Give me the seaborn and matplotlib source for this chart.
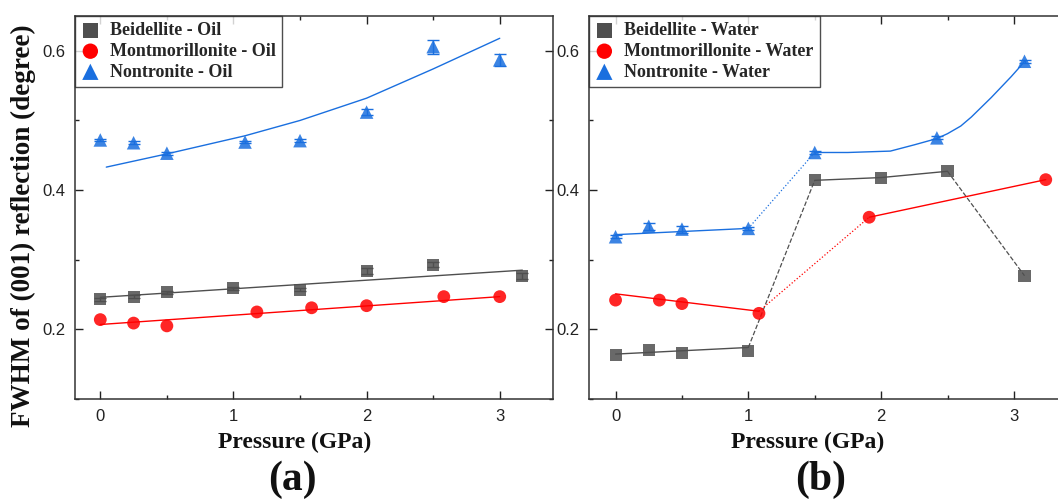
import seaborn as sns
import matplotlib.pyplot as plt
from matplotlib.ticker import MultipleLocator

# Panel (a): oil
oil_p_beid = [0, 0.25, 0.5, 1.0, 1.5, 2.0, 2.5, 3.17]
oil_fwhm_beid = [0.243, 0.247, 0.253, 0.259, 0.257, 0.284, 0.293, 0.277]
oil_err_beid = [0.002, 0.002, 0.002, 0.002, 0.002, 0.004, 0.004, 0.004]
oil_p_mont = [0, 0.25, 0.5, 1.176, 1.587, 2.0, 2.58, 3.0]
oil_fwhm_mont = [0.214, 0.209, 0.205, 0.225, 0.231, 0.234, 0.247, 0.247]
oil_p_nont = [0, 0.25, 0.5, 1.087, 1.5, 2.0, 2.5, 3.0]
oil_fwhm_nont = [0.472, 0.468, 0.453, 0.469, 0.471, 0.512, 0.606, 0.587]
oil_err_nont = [0.002, 0.002, 0.002, 0.002, 0.002, 0.004, 0.010, 0.009]

# fit lines
oil_fit_beid_p = [0, 3.17]
oil_fit_beid = [0.246, 0.285]
oil_fit_mont_p = [0, 3.0]
oil_fit_mont = [0.207, 0.247]
oil_fit_nont_p = [0.045, 0.5, 1.087, 1.5, 2.0, 2.5, 3.0]
oil_fit_nont = [0.433, 0.452, 0.478, 0.500, 0.532, 0.574, 0.618]

# Panel (b): water
wat_p_beid = [0, 0.25, 0.5, 1.0, 1.5, 2.0, 2.5, 3.08]
wat_fwhm_beid = [0.163, 0.170, 0.166, 0.169, 0.414, 0.418, 0.427, 0.277]
wat_p_mont = [0, 0.33, 0.5, 1.08, 1.91, 3.24]
wat_fwhm_mont = [0.242, 0.242, 0.237, 0.223, 0.361, 0.415]
wat_p_nont = [0, 0.25, 0.5, 1.0, 1.5, 2.42, 3.08]
wat_fwhm_nont = [0.333, 0.348, 0.344, 0.345, 0.454, 0.475, 0.585]
wat_err_nont = [0.002, 0.005, 0.005, 0.002, 0.002, 0.002, 0.002]

# connecting / fit segments in (b): (x, y, style)
wat_lines_beid = [([0, 1.0], [0.1645, 0.174], '-'),
                  ([1.0, 1.5], [0.174, 0.414], '--'),
                  ([1.5, 2.0, 2.5], [0.414, 0.418, 0.427], '-'),
                  ([2.5, 3.08], [0.427, 0.277], '--')]
wat_lines_mont = [([0, 1.08], [0.251, 0.226], '-'),
                  ([1.08, 1.91], [0.226, 0.361], ':'),
                  ([1.91, 3.24], [0.361, 0.415], '-')]
wat_lines_nont = [([0, 1.0], [0.336, 0.345], '-'),
                  ([1.0, 1.5], [0.345, 0.454], ':'),
                  ([1.5, 1.75, 2.07, 2.25, 2.42, 2.5, 2.6, 2.68, 2.755, 2.83, 2.90, 2.98, 3.05, 3.08],
                   [0.454, 0.454, 0.456, 0.465, 0.474, 0.481, 0.492, 0.505, 0.519, 0.533,
                    0.547, 0.563, 0.578, 0.585], '-')]

GRAY = '#4f4f4f'
RED = '#ff0000'
BLUE = '#1a6fdf'

sns.set_style('ticks')
plt.rcParams['font.family'] = ['Liberation Sans', 'DejaVu Sans']
serif = ['Liberation Serif', 'DejaVu Serif']

fig = plt.figure(figsize=(10.58, 4.99), dpi=100)
axa = fig.add_axes([75 / 1058, 100 / 499, 478 / 1058, 383 / 499])
axb = fig.add_axes([589 / 1058, 100 / 499, 478 / 1058, 383 / 499])


def style_ax(ax, xlim):
    ax.set_xlim(*xlim)
    ax.set_ylim(0.1, 0.65)
    ax.xaxis.set_major_locator(MultipleLocator(1))
    ax.xaxis.set_minor_locator(MultipleLocator(0.5))
    ax.yaxis.set_major_locator(MultipleLocator(0.2))
    ax.yaxis.set_minor_locator(MultipleLocator(0.1))
    ax.tick_params(which='both', direction='in', top=True, right=True,
                   labelsize=12, colors='#222222', pad=7)
    ax.tick_params(which='major', length=5.5, width=1.0)
    ax.tick_params(which='minor', length=3, width=1.0)
    for s in ax.spines.values():
        s.set_visible(True)
        s.set_linewidth(1.1)
        s.set_color('#333333')
    ax.set_xlabel('')
    ax.set_ylabel('')


def points(ax, x, y, marker, size, color, label, yerr=None):
    if yerr is not None:
        ax.errorbar(x, y, yerr=yerr, fmt='none', ecolor=color, elinewidth=1,
                    capsize=4, capthick=1, zorder=3)
    sns.scatterplot(x=x, y=y, marker=marker, s=size, color=color, alpha=0.85,
                    edgecolor='none', label=label, ax=ax, zorder=4)


def legend(ax):
    leg = ax.legend(loc='upper left', bbox_to_anchor=(0, 1), borderaxespad=0,
                    frameon=True, fancybox=False, edgecolor='#222222',
                    handlelength=1.0, handletextpad=0.6, labelspacing=0.2,
                    borderpad=0.35, markerscale=1.2,
                    prop={'family': serif, 'weight': 'bold', 'size': 13})
    leg.get_frame().set_linewidth(1.0)
    for h in leg.legend_handles:
        h.set_alpha(1)


# (a)
sns.lineplot(x=oil_fit_beid_p, y=oil_fit_beid, color=GRAY, lw=1, ax=axa)
sns.lineplot(x=oil_fit_mont_p, y=oil_fit_mont, color=RED, lw=1, ax=axa)
sns.lineplot(x=oil_fit_nont_p, y=oil_fit_nont, color=BLUE, lw=1, ax=axa)
points(axa, oil_p_beid, oil_fwhm_beid, 's', 75, GRAY, 'Beidellite - Oil', oil_err_beid)
points(axa, oil_p_mont, oil_fwhm_mont, 'o', 85, RED, 'Montmorillonite - Oil')
points(axa, oil_p_nont, oil_fwhm_nont, '^', 95, BLUE, 'Nontronite - Oil', oil_err_nont)
style_ax(axa, (-0.19, 3.40))
legend(axa)

# (b)
for lines, color in [(wat_lines_beid, GRAY), (wat_lines_mont, RED), (wat_lines_nont, BLUE)]:
    for xs, ys, ls in lines:
        sns.lineplot(x=xs, y=ys, color=color, lw=1 if ls == '-' else 0.9,
                     linestyle=ls, ax=axb)
points(axb, wat_p_beid, wat_fwhm_beid, 's', 75, GRAY, 'Beidellite - Water')
points(axb, wat_p_mont, wat_fwhm_mont, 'o', 85, RED, 'Montmorillonite - Water')
points(axb, wat_p_nont, wat_fwhm_nont, '^', 95, BLUE, 'Nontronite - Water', wat_err_nont)
style_ax(axb, (-0.2, 3.4))
legend(axb)

lab = dict(family=serif, weight='bold', color='#111111')
fig.text(23 / 1058, 1 - 226 / 499, 'FWHM of (001) reflection (degree)',
         rotation=90, ha='center', va='center', fontsize=19.5, **lab)
fig.text(295 / 1058, 1 - 442 / 499, 'Pressure (GPa)', ha='center', va='center',
         fontsize=17, **lab)
fig.text(808 / 1058, 1 - 442 / 499, 'Pressure (GPa)', ha='center', va='center',
         fontsize=17, **lab)
fig.text(292 / 1058, 1 - 480 / 499, '(a)', ha='center', va='center', fontsize=30, **lab)
fig.text(821 / 1058, 1 - 480 / 499, '(b)', ha='center', va='center', fontsize=30, **lab)

fig.savefig('out.png', dpi=100)
